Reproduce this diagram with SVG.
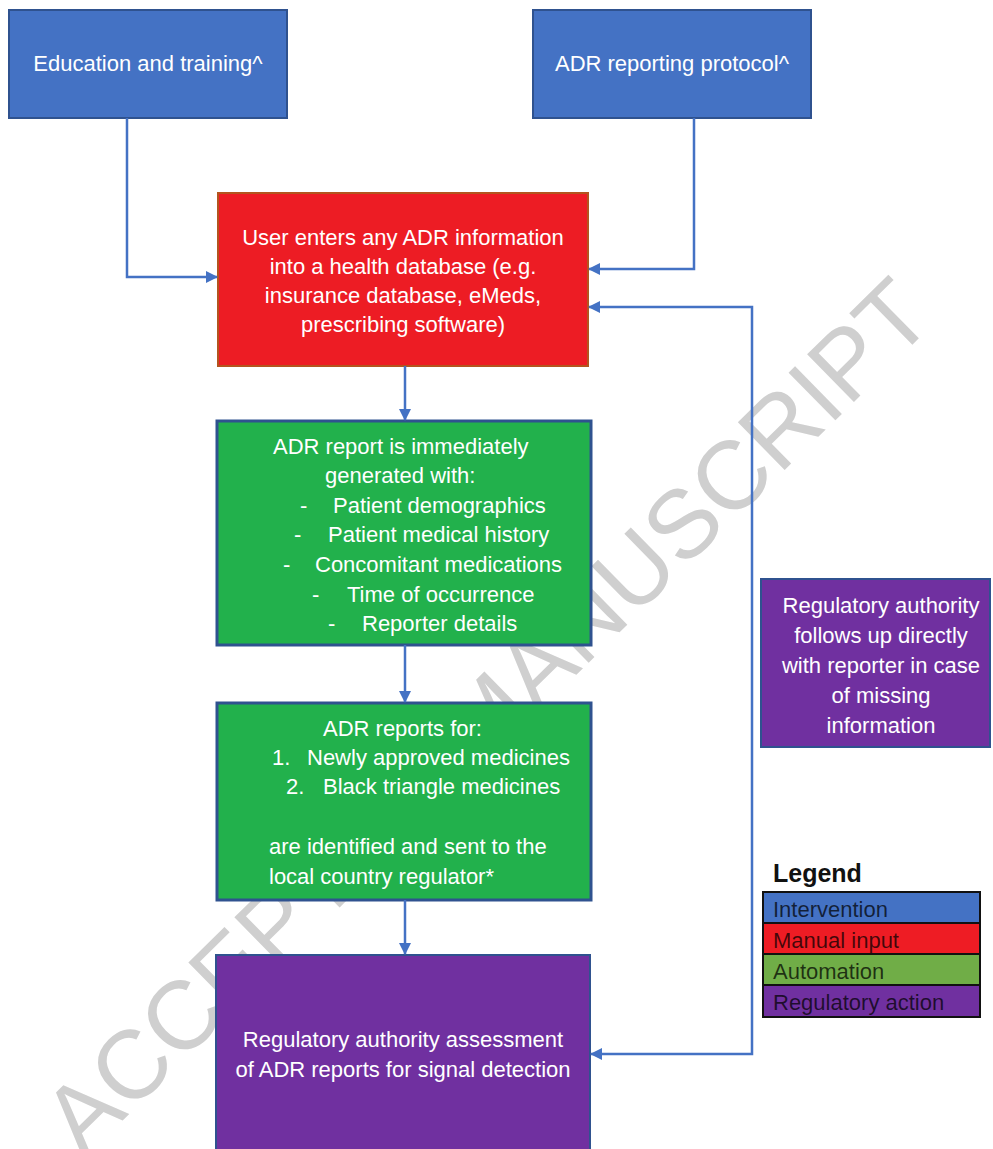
<svg xmlns="http://www.w3.org/2000/svg" width="993" height="1149" viewBox="0 0 993 1149">
<style>
text{font-family:"Liberation Sans",Arial,sans-serif;}
.t{font-size:22px;fill:#ffffff;}
.c{text-anchor:middle;}
.blue{fill:#4472C4;stroke:#2F528F;stroke-width:2;}
.red{fill:#ED1C24;stroke:#B4541E;stroke-width:2;}
.green{fill:#22B14C;stroke:#2F528F;stroke-width:3;}
.purple{fill:#7030A0;stroke:#2F528F;stroke-width:2;}
.conn{fill:none;stroke:#4472C4;stroke-width:2.5;}
.lg{font-size:22px;fill:#000000;fill-opacity:0.72;}
.wm{font-size:97px;fill:#cfcfcf;text-anchor:middle;}
</style>
<defs>
<marker id="ah" viewBox="0 0 12 12" refX="11" refY="6" markerWidth="12" markerHeight="12" markerUnits="userSpaceOnUse" orient="auto-start-reverse">
<path d="M0,0 L12,6 L0,12 z" fill="#4472C4"/>
</marker>
</defs>
<rect x="0" y="0" width="993" height="1149" fill="#ffffff"/>
<text class="wm" transform="translate(510,740) rotate(-44.5)">ACCEPTED MANUSCRIPT</text>

<g id="edu">
<rect class="blue" x="9" y="10" width="278" height="108"/>
<text class="t c" x="148" y="71">Education and training^</text>
</g>
<g id="protocol">
<rect class="blue" x="533" y="10" width="278" height="108"/>
<text class="t c" x="672" y="71">ADR reporting protocol^</text>
</g>
<g id="user">
<rect class="red" x="218" y="193" width="370" height="173"/>
<text class="t c" x="403" y="245">User enters any ADR information</text>
<text class="t c" x="403" y="274">into a health database (e.g.</text>
<text class="t c" x="403" y="303">insurance database, eMeds,</text>
<text class="t c" x="403" y="332">prescribing software)</text>
</g>
<g id="report">
<rect class="green" x="217" y="421" width="374" height="224"/>
<text class="t" x="273" y="454">ADR report is immediately</text>
<text class="t" x="325" y="483">generated with:</text>
<text class="t" x="300" y="513">-</text><text class="t" x="333" y="513">Patient demographics</text>
<text class="t" x="294" y="542">-</text><text class="t" x="328" y="542">Patient medical history</text>
<text class="t" x="283" y="572">-</text><text class="t" x="315" y="572">Concomitant medications</text>
<text class="t" x="312" y="602">-</text><text class="t" x="347" y="602">Time of occurrence</text>
<text class="t" x="328" y="631">-</text><text class="t" x="362" y="631">Reporter details</text>
</g>
<g id="identify">
<rect class="green" x="217" y="703" width="374" height="197"/>
<text class="t" x="323" y="736">ADR reports for:</text>
<text class="t" x="272" y="765">1.</text><text class="t" x="307" y="765">Newly approved medicines</text>
<text class="t" x="286" y="794">2.</text><text class="t" x="323" y="794">Black triangle medicines</text>
<text class="t" x="269" y="854">are identified and sent to the</text>
<text class="t" x="269" y="884">local country regulator*</text>
</g>
<g id="assess">
<rect class="purple" x="216" y="955" width="374" height="205"/>
<text class="t c" x="403" y="1047">Regulatory authority assessment</text>
<text class="t c" x="403" y="1077">of ADR reports for signal detection</text>
</g>
<g id="followup">
<rect class="purple" x="761" y="579" width="229" height="168"/>
<text class="t c" x="881" y="613">Regulatory authority</text>
<text class="t c" x="881" y="643">follows up directly</text>
<text class="t c" x="881" y="673">with reporter in case</text>
<text class="t c" x="881" y="703">of missing</text>
<text class="t c" x="881" y="733">information</text>
</g>
<g id="legend">
<text x="773" y="882" style="font-size:25px;font-weight:bold;fill:#111111;">Legend</text>
<rect x="763" y="892" width="217" height="31" fill="#4472C4" stroke="#111111" stroke-width="2"/>
<rect x="763" y="923" width="217" height="31" fill="#EE1C24" stroke="#111111" stroke-width="2"/>
<rect x="763" y="954" width="217" height="31" fill="#70AD47" stroke="#111111" stroke-width="2"/>
<rect x="763" y="985" width="217" height="32" fill="#7030A0" stroke="#111111" stroke-width="2"/>
<text class="lg" x="773" y="917">Intervention</text>
<text class="lg" x="773" y="948">Manual input</text>
<text class="lg" x="773" y="979">Automation</text>
<text class="lg" x="773" y="1010">Regulatory action</text>
</g>
<g id="connectors">
<path class="conn" d="M127,118 V277 H217" marker-end="url(#ah)"/>
<path class="conn" d="M694,118 V269 H589" marker-end="url(#ah)"/>
<path class="conn" d="M591,1054 H752 V307 H589" marker-start="url(#ah)" marker-end="url(#ah)"/>
<path class="conn" d="M405,366 V420" marker-end="url(#ah)"/>
<path class="conn" d="M405,645 V702" marker-end="url(#ah)"/>
<path class="conn" d="M405,900 V954" marker-end="url(#ah)"/>
</g>
</svg>
